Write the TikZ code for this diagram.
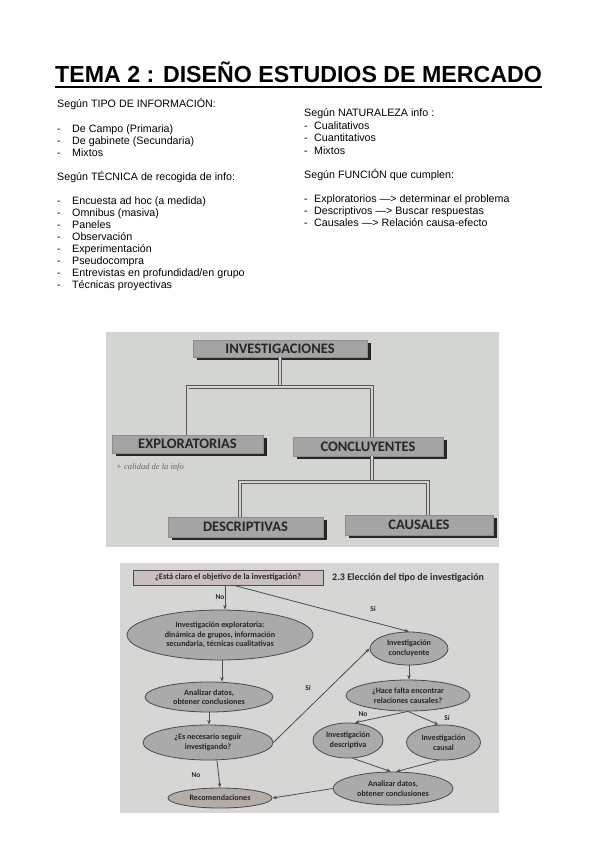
\documentclass[tikz,border=0pt]{standalone}
\usepackage{fontspec}
\setmainfont{Liberation Sans}
\newfontfamily\carlito{Carlito}
\newfontfamily\handfont{Liberation Serif}
\usetikzlibrary{arrows.meta,shapes.geometric,backgrounds}
\definecolor{bgone}{HTML}{D3D5D1}
\definecolor{bgtwo}{HTML}{D6D6D4}
\definecolor{boxgray}{HTML}{A4A4A4}
\definecolor{ellfill}{HTML}{AAAAAA}
\definecolor{ellline}{HTML}{4A4A4A}
\definecolor{qfill}{HTML}{C9BFBE}
\definecolor{recfill}{HTML}{B4ACA7}
\definecolor{inkdark}{HTML}{262626}
\begin{document}
\begin{tikzpicture}[x=1pt,y=-1pt,
  body/.style={anchor=base west,inner sep=0,font=\fontsize{10.7}{12}\selectfont},
  catbox/.style={draw=black!45,line width=0.5pt,fill=boxgray,inner sep=0,
    font=\carlito\bfseries\fontsize{14.5}{16}\selectfont,text=inkdark},
  shadowfill/.style={fill=black!85},
  dline/.style={draw=black!65,line width=0.6pt,double=bgone,double distance=2pt},
  ell/.style={ellipse,draw=ellline,line width=0.8pt,fill=ellfill,inner sep=0,align=center,
    font=\carlito\bfseries\fontsize{8.1}{9.6}\selectfont,text=inkdark},
  arr/.style={draw=black!70,line width=0.8pt,-{Stealth[length=4.5pt,width=3.5pt]}},
  lab/.style={inner sep=0,font=\carlito\bfseries\fontsize{7.4}{8}\selectfont,text=inkdark}]
\useasboundingbox (0,0) rectangle (599,848);
% ---------- title ----------
\node[anchor=base west,inner sep=0,font=\bfseries\fontsize{23.2}{28}\selectfont] (title) at (55,83) {TEMA 2 : DISEÑO ESTUDIOS DE MERCADO};
\draw[line width=1.8pt] ([yshift=-4pt]title.base west) -- ([yshift=-4pt]title.base east);
% ---------- left column ----------
\node[body] (t1) at (57,108) {Según TIPO DE INFORMACIÓN:};
\node[body] (t2) at (57,132) {\makebox[15pt][l]{-}De Campo (Primaria)};
\node[body] (t3) at (57,144) {\makebox[15pt][l]{-}De gabinete (Secundaria)};
\node[body] (t4) at (57,156) {\makebox[15pt][l]{-}Mixtos};
\node[body] (t5) at (57,180) {Según TÉCNICA de recogida de info:};
\node[body] (t6) at (57,204) {\makebox[15pt][l]{-}Encuesta ad hoc (a medida)};
\node[body] (t7) at (57,216) {\makebox[15pt][l]{-}Omnibus (masiva)};
\node[body] (t8) at (57,228) {\makebox[15pt][l]{-}Paneles};
\node[body] (t9) at (57,240) {\makebox[15pt][l]{-}Observación};
\node[body] (t10) at (57,252) {\makebox[15pt][l]{-}Experimentación};
\node[body] (t11) at (57,264) {\makebox[15pt][l]{-}Pseudocompra};
\node[body] (t12) at (57,276) {\makebox[15pt][l]{-}Entrevistas en profundidad/en grupo};
\node[body] (t13) at (57,288) {\makebox[15pt][l]{-}Técnicas proyectivas};
% ---------- right column ----------
\node[body] (r1) at (304,117) {Según NATURALEZA info :};
\node[body] (r2) at (304,130) {\makebox[10pt][l]{-}Cualitativos};
\node[body] (r3) at (304,142) {\makebox[10pt][l]{-}Cuantitativos};
\node[body] (r4) at (304,154) {\makebox[10pt][l]{-}Mixtos};
\node[body] (r5) at (304,178) {Según FUNCIÓN que cumplen:};
\node[body] (r6) at (304,202) {\makebox[10pt][l]{-}Exploratorios —> determinar el problema};
\node[body] (r7) at (304,214) {\makebox[10pt][l]{-}Descriptivos —> Buscar respuestas};
\node[body] (r8) at (304,226) {\makebox[10pt][l]{-}Causales —> Relación causa-efecto};
% ---------- photo 1 ----------
\coordinate (j1) at (280,387);
\coordinate (j2) at (372,482);
\node[catbox,minimum width=174pt,minimum height=17pt] (inv) at (280,348.5) {INVESTIGACIONES};
\node[catbox,minimum width=151pt,minimum height=18pt] (expl) at (187.5,444) {EXPLORATORIAS};
\node[catbox,minimum width=150pt,minimum height=19pt] (conc1) at (368,446.5) {CONCLUYENTES};
\node[catbox,minimum width=155pt,minimum height=20pt] (descb) at (245.5,527) {DESCRIPTIVAS};
\node[catbox,minimum width=148pt,minimum height=20pt] (causb) at (419,525) {CAUSALES};
\begin{scope}[on background layer]
  \fill[white] (0,0) rectangle (599,848);
  \fill[bgone] (106,332) rectangle (499,547);
  \fill[bgtwo] (120,563) rectangle (499,813);
  \foreach \b in {inv,expl,conc1,descb,causb}
    \fill[shadowfill] ([shift={(4pt,-3pt)}]\b.south west) rectangle ([shift={(4pt,-3pt)}]\b.north east);
\end{scope}
\draw[dline] (inv.south) -- (j1);
\draw[dline] (expl.north) |- (j1) -| ([xshift=4pt]conc1.north);
\draw[dline] ([xshift=4pt]conc1.south) -- (j2);
\draw[dline] ([xshift=-5.5pt]descb.north) |- (j2) -| ([xshift=9pt]causb.north);
\node[anchor=base west,inner sep=0,font=\handfont\itshape\fontsize{8.5}{10}\selectfont,text=black!60] (hand) at (116,469) {+ calidad de la info};
% ---------- photo 2 ----------
\node[draw=ellline,line width=0.8pt,fill=qfill,minimum width=190pt,minimum height=15pt,inner sep=0,
  font=\carlito\bfseries\fontsize{8.4}{9}\selectfont,text=inkdark] (q) at (228,577.5) {¿Está claro el objetivo de la investigación?};
\node[anchor=west,inner sep=0,font=\carlito\bfseries\fontsize{10}{11}\selectfont,text=inkdark] (title2) at (332,578) {2.3 Elección del tipo de investigación};
\node[ell,minimum width=186pt,minimum height=50pt] (e1) at (220,635) {Investigación exploratoria:\\dinámica de grupos, información\\secundaria, técnicas cualitativas};
\node[ell,minimum width=128pt,minimum height=30pt] (a1) at (209,697) {Analizar datos,\\obtener conclusiones};
\node[ell,minimum width=130pt,minimum height=35pt] (s1) at (208,742.5) {¿Es necesario seguir\\investigando?};
\node[ell,fill=recfill,minimum width=104pt,minimum height=20pt] (rec) at (220,798) {Recomendaciones};
\node[ell,minimum width=78pt,minimum height=33pt] (conc) at (409,648.5) {Investigación\\concluyente};
\node[ell,minimum width=124pt,minimum height=31pt] (hf) at (408,695.5) {¿Hace falta encontrar\\relaciones causales?};
\node[ell,minimum width=70pt,minimum height=35pt] (desc) at (348,740.5) {Investigación\\descriptiva};
\node[ell,minimum width=74pt,minimum height=35pt] (caus) at (443.5,742.5) {Investigación\\causal};
\node[ell,minimum width=120pt,minimum height=33pt] (a2) at (393,788.5) {Analizar datos,\\obtener conclusiones};
% arrows
\draw[arr] ([xshift=-3pt]q.south) -- ([xshift=-3pt]q.south |- e1.north);
\draw[arr] ([xshift=6pt]q.south) -- (conc.north);
\draw[arr] ([xshift=2pt]e1.south) -- ([xshift=2pt]e1.south |- a1.north);
\draw[arr] (a1.south) -- (a1.south |- s1.north);
\draw[arr] (s1.east) -- (conc.west);
\draw[arr] ([xshift=9pt]s1.south) -- (rec.north);
\draw[arr] (conc.south) -- (conc.south |- hf.north);
\draw[arr] (hf.south) -- ([xshift=7pt]desc.north);
\draw[arr] (hf.south) -- ([xshift=-5pt]caus.north);
\draw[arr] ([xshift=5pt]desc.south) -- ([xshift=-2pt]a2.north);
\draw[arr] ([xshift=-5pt]caus.south) -- ([xshift=3pt]a2.north);
\draw[arr] (a2.west) -- (rec.east);
% labels
\node[lab] (l1) at (220,597) {No};
\node[lab] (l2) at (373,609) {Sí};
\node[lab] (l3) at (308,688) {Sí};
\node[lab] (l4) at (196,775) {No};
\node[lab] (l5) at (363,714) {No};
\node[lab] (l6) at (447,718) {Sí};
\end{tikzpicture}
\end{document}
